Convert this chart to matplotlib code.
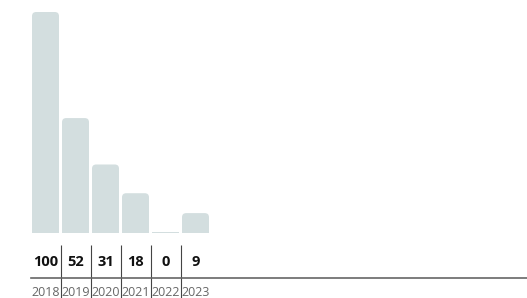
import numpy as np
import matplotlib.pyplot as plt
from matplotlib.patches import FancyBboxPatch, Rectangle

years = ['2018', '2019', '2020', '2021', '2022', '2023']
values = [100, 52, 31, 18, 0, 9]

bar_color = '#d3dedf'
px_per_x = 30.0
px_per_y = 2.21

fig = plt.figure(figsize=(5.27, 2.98), dpi=100)
ax = fig.add_axes([0, 0, 1, 1])
ax.set_xlim((0 - 45.5) / px_per_x, (527 - 45.5) / px_per_x)
ax.set_ylim(-65 / px_per_y, (298 - 65) / px_per_y)
ax.axis('off')

w = 0.9
aspect = px_per_x / px_per_y
for i, v in enumerate(values):
    if v <= 0:
        ax.add_patch(Rectangle((i - w/2, 0), w, 0.45, color=bar_color, lw=0))
        continue
    ax.add_patch(FancyBboxPatch((i - w/2, 0), w, v,
                                boxstyle='round,pad=0,rounding_size=0.14',
                                mutation_aspect=aspect, color=bar_color, lw=0))
    ax.add_patch(Rectangle((i - w/2, 0), w, v / 2, color=bar_color, lw=0))

# value row + years
for i, v in enumerate(values):
    ax.text(i, -29 / px_per_y, str(v), ha='center', va='center',
            fontsize=10.5, fontweight='bold', family='Open Sans', color='#111111')
    ax.text(i, -60 / px_per_y, years[i], ha='center', va='center',
            fontsize=9, family='Open Sans', color='#666666')

for i in range(len(values) - 1):
    ax.plot([i + 0.5, i + 0.5], [-12 / px_per_y, -66 / px_per_y],
            color='#444444', lw=0.8, solid_capstyle='butt')

ax.plot([-0.5, 20], [-44.5 / px_per_y, -44.5 / px_per_y], color='#666666', lw=1.2)

fig.savefig('out.png', dpi=100)
